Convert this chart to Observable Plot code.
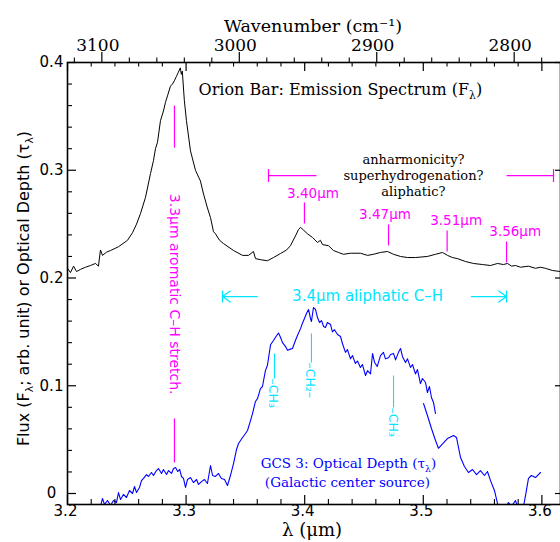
<!DOCTYPE html>
<html><head><meta charset="utf-8">
<script src="https://cdn.jsdelivr.net/npm/d3@7"></script>
<script src="https://cdn.jsdelivr.net/npm/@observablehq/plot@0.6"></script>
<style>body{margin:0;background:#fff} svg{display:block}</style>
</head><body><div id="chart"></div>
<script>
// ---------- Orion Bar emission spectrum ----------
const orionLambda = [
3.2000,3.2025,3.2051,3.2076,3.2110,3.2152,3.2194,3.2236,3.2261,3.2278,
3.2295,3.2329,3.2363,3.2430,3.2506,3.2548,3.2582,3.2616,3.2658,3.2700,
3.2725,3.2742,3.2759,3.2784,3.2809,3.2826,3.2843,3.2868,3.2885,3.2901,
3.2918,3.2935,3.2951,3.2960,3.2968,3.2985,3.3003,3.3037,3.3079,3.3121,
3.3147,3.3180,3.3206,3.3231,3.3248,3.3282,3.3315,3.3400,3.3476,3.3526,
3.3568,3.3585,3.3627,3.3686,3.3737,3.3796,3.3847,3.3880,3.3922,3.3948,
3.3965,3.3990,3.4024,3.4066,3.4108,3.4133,3.4150,3.4201,3.4243,3.4285,
3.4327,3.4386,3.4470,3.4530,3.4580,3.4639,3.4698,3.4749,3.4808,3.4867,
3.4934,3.5035,3.5103,3.5162,3.5204,3.5246,3.5288,3.5356,3.5423,3.5499,
3.5567,3.5626,3.5676,3.5710,3.5744,3.5777,3.5820,3.5887,3.5946,3.5988,
3.6030,3.6089,3.6155];
const orionFlux = [
0.209,0.205,0.211,0.206,0.208,0.210,0.2116,0.2135,0.211,0.226,
0.221,0.224,0.2255,0.229,0.235,0.242,0.250,0.260,0.275,0.297,
0.309,0.320,0.326,0.346,0.355,0.363,0.369,0.378,0.380,0.383,
0.387,0.391,0.395,0.389,0.392,0.365,0.346,0.318,0.300,0.290,
0.278,0.265,0.256,0.243,0.241,0.235,0.232,0.2255,0.221,0.221,
0.2246,0.218,0.217,0.216,0.219,0.2227,0.226,0.230,0.239,0.245,
0.247,0.2445,0.241,0.2376,0.233,0.235,0.231,0.230,0.2255,0.2237,
0.222,0.223,0.223,0.221,0.222,0.2237,0.2246,0.222,0.220,0.219,
0.219,0.220,0.222,0.2237,0.221,0.219,0.218,0.2153,0.2135,0.2125,
0.2116,0.2135,0.2125,0.2135,0.211,0.2116,0.210,0.211,0.209,0.210,
0.209,0.207,0.206];

// ---------- GCS 3 optical depth (high resolution part) ----------
const gcsLambda = [
3.2278,3.2295,3.2312,3.2337,3.2363,3.2388,3.2413,3.2430,3.2447,3.2472,
3.2497,3.2523,3.2548,3.2565,3.2582,3.2607,3.2624,3.2641,3.2666,3.2683,
3.2708,3.2725,3.2750,3.2767,3.2793,3.2809,3.2835,3.2852,3.2877,3.2894,
3.2911,3.2929,3.2946,3.2961,3.2978,3.2995,3.3012,3.3037,3.3062,3.3088,
3.3105,3.3130,3.3155,3.3180,3.3206,3.3223,3.3248,3.3273,3.3298,3.3324,
3.3349,3.3374,3.3400,3.3425,3.3442,3.3459,3.3476,3.3501,3.3518,3.3543,
3.3560,3.3585,3.3602,3.3627,3.3644,3.3669,3.3686,3.3712,3.3737,3.3754,
3.3779,3.3796,3.3813,3.3839,3.3855,3.3880,3.3897,3.3922,3.3939,3.3965,
3.3981,3.3998,3.4015,3.4032,3.4049,3.4057,3.4074,3.4091,3.4108,3.4125,
3.4142,3.4159,3.4175,3.4192,3.4218,3.4234,3.4251,3.4277,3.4302,3.4319,
3.4344,3.4361,3.4386,3.4403,3.4428,3.4445,3.4470,3.4487,3.4513,3.4530,
3.4555,3.4572,3.4589,3.4612,3.4639,3.4664,3.4681,3.4707,3.4724,3.4749,
3.4766,3.4791,3.4808,3.4825,3.4850,3.4867,3.4892,3.4909,3.4934,3.4951,
3.4976,3.4993,3.5019,3.5035,3.5052,3.5069,3.5086,3.5103];
const gcsTau = [
-0.012,-0.0046,-0.0102,-0.0065,-0.011,-0.0065,-0.0084,0.0009,-0.0056,-0.0009,
-0.0037,0.0028,0.0,0.0065,0.0009,0.0056,0.012,0.014,0.0176,0.0158,
0.0195,0.0167,0.0213,0.0232,0.0186,0.0223,0.0176,0.0213,0.0186,0.0232,
0.0241,0.0204,0.0223,0.0158,0.014,0.0056,0.013,0.0148,0.0102,0.013,
0.0084,0.011,0.013,0.0093,0.026,0.0167,0.0158,0.0186,0.014,0.013,
0.0074,0.0167,0.0278,0.0408,0.0464,0.0492,0.052,0.0557,0.0585,0.0677,
0.0742,0.0854,0.088,0.0974,0.0993,0.114,0.119,0.138,0.142,0.145,
0.149,0.145,0.140,0.1364,0.133,0.134,0.1346,0.142,0.1466,0.153,
0.158,0.1624,0.167,0.1708,0.1624,0.1596,0.1726,0.1708,0.1633,0.1587,
0.1605,0.155,0.154,0.1587,0.1568,0.150,0.152,0.1476,0.1457,0.139,
0.131,0.1336,0.125,0.128,0.1207,0.123,0.117,0.1197,0.1095,0.114,
0.111,0.130,0.1216,0.118,0.128,0.131,0.125,0.126,0.129,0.130,
0.124,0.131,0.1346,0.127,0.1216,0.125,0.117,0.1197,0.111,0.115,
0.102,0.1067,0.103,0.0937,0.0993,0.0891,0.0845,0.0742];

// ---------- GCS 3 optical depth (low resolution part) ----------
const gcs2Lambda = [3.5002,3.5035,3.5069,3.5103,3.5128,3.5162,3.5204,3.5255,3.5280,3.5314,
3.5347,3.5381,3.5415,3.5449,3.5482,3.5516,3.5541,3.5567,3.5600,3.5626,
3.5651,3.5693,3.5718,3.5744,3.5777,3.5803,3.5836,3.5862,3.5887,3.5912,3.5946,3.5988];
const gcs2Tau = [0.0835,0.0724,0.0603,0.0492,0.042,0.046,0.051,0.0538,0.052,0.0334,
0.0251,0.0195,0.0223,0.0176,0.0213,0.0167,0.0204,0.012,0.0028,-0.0093,
-0.0176,-0.014,-0.0084,-0.012,-0.0065,-0.014,-0.0176,-0.0019,0.014,0.0167,0.0148,0.0195];

// ---------- ticks ----------
const xMajor = [3.2, 3.3, 3.4, 3.5, 3.6];
const xMinor = [3.22,3.24,3.26,3.28,3.32,3.34,3.36,3.38,3.42,3.44,3.46,3.48,3.52,3.54,3.56,3.58];
const yMajor = [0, 0.1, 0.2, 0.3, 0.4];
const yMinor = [0.02,0.04,0.06,0.08,0.12,0.14,0.16,0.18,0.22,0.24,0.26,0.28,0.32,0.34,0.36,0.38];
const wnMajor = [3100, 3000, 2900, 2800];
const wnMinor = [3120,3080,3060,3040,3020,2980,2960,2940,2920,2880,2860,2840,2820,2780];
// wavenumber tick placement as drawn on the figure's top axis
const wnPos = w => 3.34486 + (3000 - w) * 0.0011589;

// ---------- annotations ----------
const peakLabels = ["3.40μm", "3.47μm", "3.51μm", "3.56μm"];
const peakLabelX = [3.407, 3.4677, 3.5277, 3.5775];
const peakLabelY = [0.2784, 0.2589, 0.2534, 0.2432];
const peakLineX = [3.3998, 3.4707, 3.5201, 3.5702];
const peakLineTop = [0.2701, 0.2497, 0.2441, 0.2339];
const peakLineBottom = [0.2506, 0.2302, 0.2246, 0.2144];

const questionLines = ["anharmonicity?", "superhydrogenation?", "aliphatic?"];
const questionX = 3.4917;
const questionY = [0.310, 0.2951, 0.2803];
const bracketX1 = [3.3695, 3.5702];
const bracketX2 = [3.410, 3.6098];
const bracketEnds = [3.3695, 3.6098];
const bracketY = 0.2951;

const aromaticLabel = "3.3μm aromatic C–H stretch.";
const aromaticX = 3.2902;
const aromaticY = 0.1850;
const aromaticLineY1 = [0.360, 0.0696];
const aromaticLineY2 = [0.321, 0.0288];

const aliphaticLabel = "3.4μm aliphatic C–H";
const aliphaticX = 3.4530;
const aliphaticY = 0.1828;
const arrowFrom = [3.360, 3.5406];
const arrowTo = [3.3307, 3.5702];

const chLabels = ["–CH₃", "–CH₂–", "–CH₃"];
const chX = [3.3745, 3.4057, 3.4749];
const chLineTop = [0.130, 0.1485, 0.1095];
const chLineBottom = [0.1067, 0.1216, 0.0798];

const orionTitle = "Orion Bar: Emission Spectrum (F_{λ})";
const orionTitleX = 3.3105, orionTitleY = 0.375;
const gcsTitle = ["GCS 3: Optical Depth (τ_{λ})", "(Galactic center source)"];
const gcsTitleX = [3.4369, 3.436];
const gcsTitleY = [0.0278, 0.0102];

const W = 560, H = 542, mL = 67, mR = 0, mT = 62, mB = 38;
const pw = W - mL - mR, ph = H - mT - mB;

const orion = orionLambda.map((x, i) => ({x, y: orionFlux[i]}));
const gcs = gcsLambda.map((x, i) => ({x, y: gcsTau[i]}));
const gcs2 = gcs2Lambda.map((x, i) => ({x, y: gcs2Tau[i]}));

const MAG = "#ff00ff", CY = "#00e5ff", BL = "#0000ff";
const serif = "DejaVu Serif", sans = "DejaVu Sans";

const chart = Plot.plot({
  width: W, height: H,
  marginLeft: mL, marginRight: mR, marginTop: mT, marginBottom: mB,
  style: {fontFamily: sans, background: "white", overflow: "visible"},
  x: {domain: [3.2, 3.6157], axis: null},
  y: {domain: [-0.0102, 0.4], axis: null},
  marks: [
    // data
    Plot.line(orion, {x: "x", y: "y", stroke: "black", strokeWidth: 1, clip: true}),
    Plot.line(gcs, {x: "x", y: "y", stroke: BL, strokeWidth: 1.1, clip: true}),
    Plot.line(gcs2, {x: "x", y: "y", stroke: BL, strokeWidth: 1.1, clip: true}),

    // frame & ticks
    Plot.frame({stroke: "black", strokeWidth: 1.6}),
    Plot.tickX(xMajor, {x: d => d, insetTop: ph - 9, stroke: "black", strokeWidth: 1.2}),
    Plot.tickX(xMinor, {x: d => d, insetTop: ph - 5, stroke: "black", strokeWidth: 1.1}),
    Plot.tickX(xMajor, {x: d => d, insetBottom: ph - 9, stroke: "black", strokeWidth: 1.2}),
    Plot.tickX(xMinor, {x: d => d, insetBottom: ph - 4.5, stroke: "black", strokeWidth: 1.1}),
    Plot.tickX(wnMajor, {x: d => wnPos(d), insetTop: -10, insetBottom: ph, stroke: "black", strokeWidth: 1.2}),
    Plot.tickX(wnMinor, {x: d => wnPos(d), insetTop: -4.5, insetBottom: ph, stroke: "black", strokeWidth: 1.1}),
    Plot.tickY(yMajor, {y: d => d, insetRight: pw - 9, stroke: "black", strokeWidth: 1.2}),
    Plot.tickY(yMinor, {y: d => d, insetRight: pw - 5, stroke: "black", strokeWidth: 1.1}),
    Plot.tickY(yMajor, {y: d => d, insetLeft: pw - 5, stroke: "black", strokeWidth: 1.2}),

    // tick labels
    Plot.text(xMajor, {x: d => d, text: d => d.toFixed(1), frameAnchor: "bottom", lineAnchor: "middle", dy: 6.5, dx: -2, fontSize: 15, fill: "black"}),
    Plot.text(yMajor, {y: d => d, text: d => d === 0 ? "0" : d.toFixed(1), frameAnchor: "left", textAnchor: "middle", lineAnchor: "middle", dx: -16, fontSize: 15, fill: "black"}),
    Plot.text(wnMajor, {x: d => wnPos(d), text: d => String(d), frameAnchor: "top", lineAnchor: "middle", dy: -16.5, dx: -4, fontFamily: serif, fontSize: 17, fill: "black"}),

    // axis titles
    Plot.text(["Wavenumber (cm⁻¹)"], {frameAnchor: "top", lineAnchor: "middle", dy: -36, dx: -1, fontFamily: serif, fontSize: 17.5, fill: "black"}),
    Plot.text(["λ (μm)"], {frameAnchor: "bottom", lineAnchor: "middle", dy: 26, dx: -2, fontFamily: serif, fontSize: 18, fill: "black"}),
    Plot.text(["Flux (F_{λ}; arb. unit) or Optical Depth (τ_{λ})"], {frameAnchor: "left", textAnchor: "middle", lineAnchor: "middle", rotate: -90, dx: -44, dy: 5, fontSize: 16, fill: "black"}),

    // Orion title
    Plot.text([orionTitle], {x: orionTitleX, y: orionTitleY, textAnchor: "start", fontFamily: serif, fontSize: 16, fill: "black"}),

    // question bracket
    Plot.text(questionLines, {x: questionX, y: (d, i) => questionY[i], text: d => d, fontFamily: serif, fontSize: 13, fill: "black"}),
    Plot.link(bracketX1, {x1: d => d, x2: (d, i) => bracketX2[i], y1: bracketY, y2: bracketY, stroke: MAG, strokeWidth: 1.2}),
    Plot.link(bracketEnds, {x1: d => d, x2: d => d, y1: bracketY - 0.006, y2: bracketY + 0.006, stroke: MAG, strokeWidth: 1.2}),

    // peak labels
    Plot.text(peakLabels, {x: (d, i) => peakLabelX[i], y: (d, i) => peakLabelY[i], text: d => d, fontSize: 13.5, fill: MAG}),
    Plot.link(peakLineX, {x1: d => d, x2: d => d, y1: (d, i) => peakLineTop[i], y2: (d, i) => peakLineBottom[i], stroke: MAG, strokeWidth: 1.2}),

    // aromatic label
    Plot.text([aromaticLabel], {x: aromaticX, y: aromaticY, rotate: 90, fontSize: 14, fill: MAG}),
    Plot.link(aromaticLineY1, {x1: aromaticX, x2: aromaticX, y1: d => d, y2: (d, i) => aromaticLineY2[i], stroke: MAG, strokeWidth: 1.2}),

    // aliphatic arrows
    Plot.text([aliphaticLabel], {x: aliphaticX, y: aliphaticY, fontSize: 15, fill: CY}),
    Plot.arrow(arrowFrom, {x1: d => d, x2: (d, i) => arrowTo[i], y1: aliphaticY, y2: aliphaticY, stroke: CY, strokeWidth: 1.3, headLength: 11, headAngle: 70}),
    Plot.link(arrowTo, {x1: d => d, x2: d => d, y1: aliphaticY - 0.0055, y2: aliphaticY + 0.0055, stroke: CY, strokeWidth: 1.3}),

    // CH labels
    Plot.link(chX, {x1: d => d, x2: d => d, y1: (d, i) => chLineTop[i], y2: (d, i) => chLineBottom[i], stroke: CY, strokeWidth: 1.1}),
    Plot.text(chLabels, {x: (d, i) => chX[i], y: (d, i) => chLineBottom[i], text: d => d, rotate: 90, textAnchor: "start", dx: -1, fontSize: 12.5, fill: CY}),

    // GCS title
    Plot.text(gcsTitle, {x: (d, i) => gcsTitleX[i], y: (d, i) => gcsTitleY[i], text: d => d, fontFamily: serif, fontSize: 13.5, fill: BL})
  ]
});

document.getElementById("chart").appendChild(chart);

// sub/superscript rendering for markers _{..} and ^{..}
chart.querySelectorAll("text").forEach(t => {
  const s = t.textContent;
  if (!/[_^]\{/.test(s)) return;
  const fs = parseFloat(getComputedStyle(t).fontSize) || 14;
  while (t.firstChild) t.removeChild(t.firstChild);
  const re = /([_^])\{([^}]*)\}/g;
  let last = 0, m, cur = 0;
  const add = (str, kind) => {
    const ts = document.createElementNS("http://www.w3.org/2000/svg", "tspan");
    ts.textContent = str;
    const off = kind === "_" ? 0.3 * fs : kind === "^" ? -0.4 * fs : 0;
    if (off - cur !== 0) ts.setAttribute("dy", (off - cur).toFixed(2));
    cur = off;
    if (kind) ts.setAttribute("font-size", (0.68 * fs).toFixed(2));
    t.appendChild(ts);
  };
  while ((m = re.exec(s))) {
    if (m.index > last) add(s.slice(last, m.index), null);
    add(m[2], m[1]);
    last = re.lastIndex;
  }
  if (last < s.length) add(s.slice(last), null);
});
</script>
</body></html>
